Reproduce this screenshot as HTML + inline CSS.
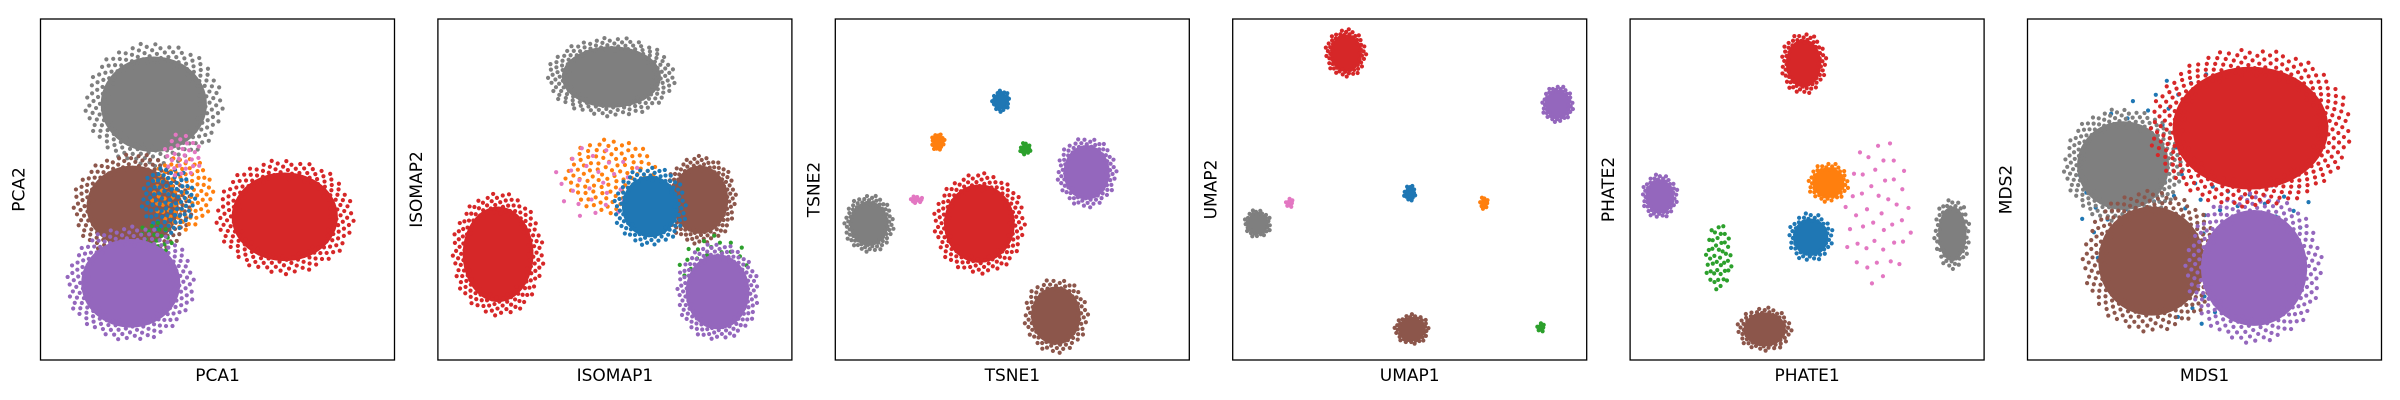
<!DOCTYPE html>
<html><head><meta charset="utf-8"><style>
html,body{margin:0;padding:0;background:#fff;}
svg{display:block;font-family:"DejaVu Sans","Liberation Sans",sans-serif;}
</style></head><body>
<svg id="fig" width="2400" height="400" viewBox="0 0 2400 400"></svg>
<script>
// Panels
const panelNames = ["PCA","ISOMAP","TSNE","UMAP","PHATE","MDS"];
// cluster colors (tab10)
const colorMap = {blue:"#1f77b4",orange:"#ff7f0e",green:"#2ca02c",red:"#d62728",purple:"#9467bd",brown:"#8c564b",pink:"#e377c2",gray:"#7f7f7f"};
// per-panel cluster data: label, center x, center y (axis fraction), spread x, spread y, point count, dense flag
const pcaLabels = ["gray","red","brown","orange","blue","pink","green","purple"];
const pcaCx = [0.32,0.69,0.26,0.40,0.36,0.40,0.32,0.255];
const pcaCy = [0.75,0.42,0.45,0.49,0.47,0.60,0.35,0.225];
const pcaSx = [0.15,0.15,0.13,0.08,0.07,0.05,0.05,0.14];
const pcaSy = [0.14,0.13,0.12,0.10,0.09,0.06,0.05,0.13];
const pcaN  = [200,200,170,90,90,30,25,190];
const pcaDense = [1,1,1,0,0,0,0,1];

const isoLabels = ["gray","red","orange","pink","brown","blue","green","purple"];
const isoCx = [0.49,0.17,0.49,0.45,0.74,0.60,0.78,0.79];
const isoCy = [0.83,0.31,0.54,0.52,0.47,0.45,0.27,0.20];
const isoSx = [0.14,0.10,0.12,0.12,0.08,0.08,0.09,0.09];
const isoSy = [0.09,0.14,0.10,0.10,0.10,0.09,0.09,0.11];
const isoN  = [170,170,110,30,130,100,40,140];
const isoDense = [1,1,0,0,1,1,0,1];

const tsneLabels = ["blue","orange","green","pink","purple","gray","red","brown"];
const tsneCx = [0.468,0.29,0.537,0.23,0.71,0.095,0.407,0.623];
const tsneCy = [0.76,0.64,0.62,0.47,0.55,0.40,0.40,0.13];
const tsneSx = [0.02,0.015,0.012,0.015,0.065,0.055,0.10,0.07];
const tsneSy = [0.025,0.02,0.015,0.008,0.08,0.065,0.115,0.085];
const tsneN  = [20,15,10,8,90,80,150,90];
const tsneDense = [1,1,1,1,1,1,1,1];

const umapLabels = ["red","purple","blue","orange","gray","pink","brown","green"];
const umapCx = [0.32,0.918,0.50,0.71,0.07,0.16,0.506,0.87];
const umapCy = [0.90,0.75,0.49,0.46,0.40,0.46,0.09,0.095];
const umapSx = [0.045,0.035,0.014,0.01,0.03,0.008,0.038,0.008];
const umapSy = [0.055,0.042,0.018,0.014,0.032,0.012,0.035,0.012];
const umapN  = [60,45,12,8,30,6,40,6];
const umapDense = [1,1,1,1,1,1,1,1];

const phateLabels = ["red","purple","orange","blue","green","pink","gray","brown"];
const phateCx = [0.49,0.084,0.56,0.51,0.25,0.70,0.91,0.38];
const phateCy = [0.87,0.48,0.52,0.36,0.30,0.43,0.37,0.09];
const phateSx = [0.05,0.04,0.045,0.05,0.035,0.09,0.04,0.06];
const phateSy = [0.07,0.05,0.045,0.055,0.09,0.20,0.08,0.05];
const phateN  = [70,50,45,50,45,45,55,60];
const phateDense = [1,1,1,1,0,0,1,1];

const mdsLabels = ["blue","gray","brown","purple","red"];
const mdsCx = [0.47,0.27,0.35,0.64,0.63];
const mdsCy = [0.47,0.57,0.29,0.27,0.68];
const mdsSx = [0.30,0.13,0.15,0.15,0.22];
const mdsSy = [0.34,0.13,0.16,0.17,0.18];
const mdsN  = [150,200,220,220,320];
const mdsDense = [0,1,1,1,1];

const panels = [
 [pcaLabels,pcaCx,pcaCy,pcaSx,pcaSy,pcaN,pcaDense],
 [isoLabels,isoCx,isoCy,isoSx,isoSy,isoN,isoDense],
 [tsneLabels,tsneCx,tsneCy,tsneSx,tsneSy,tsneN,tsneDense],
 [umapLabels,umapCx,umapCy,umapSx,umapSy,umapN,umapDense],
 [phateLabels,phateCx,phateCy,phateSx,phateSy,phateN,phateDense],
 [mdsLabels,mdsCx,mdsCy,mdsSx,mdsSy,mdsN,mdsDense]
];

const NS="http://www.w3.org/2000/svg";
const svg=document.getElementById("fig");
const L0=40.5, STEP=397.4, PW=354, PT=19, PH=341;
function mk(tag,attrs,parent){const e=document.createElementNS(NS,tag);for(const k in attrs)e.setAttribute(k,attrs[k]);parent.appendChild(e);return e;}

panels.forEach((p,pi)=>{
  const x0=L0+pi*STEP;
  const sx=f=>x0+f*PW, sy=f=>PT+(1-f)*PH;
  const g=mk("g",{},svg);
  
  
  const [lab,cx,cy,rx,ry,n,dense]=p;
  lab.forEach((c,ci)=>{
    const col=colorMap[c];
    const cg=mk("g",{fill:col},g);
    
    
    const X=sx(cx[ci]), Y=sy(cy[ci]), RX=rx[ci]*PW, RY=ry[ci]*PH;
    const isDense=dense[ci];
    if(isDense){
      const core=mk("ellipse",{cx:X,cy:Y,rx:RX,ry:RY},cg);
      
      
    }
    const N=n[ci];
    for(let i=0;i<N;i++){
      const f=(i+0.5)/N;
      const r=isDense ? 0.85+0.45*f : Math.sqrt(f)*1.1;
      const t=i*2.39996;
      const d=mk("circle",{cx:X+RX*r*Math.cos(t),cy:Y+RY*r*Math.sin(t),r:2.1},cg);
      
      
    }
  });
  const fr=mk("rect",{x:x0,y:PT,width:PW,height:PH,fill:"none",stroke:"#000","stroke-width":1.3},g);
  
  
  const xl=mk("text",{x:x0+PW/2,y:381,"text-anchor":"middle","font-size":"17"},g);
  xl.textContent=panelNames[pi]+"1";
  
  
  const yl=mk("text",{x:0,y:0,"text-anchor":"middle","font-size":"17",transform:`translate(${x0-16},${PT+PH/2}) rotate(-90)`},g);
  yl.textContent=panelNames[pi]+"2";
  
  
});
</script>
</body></html>
